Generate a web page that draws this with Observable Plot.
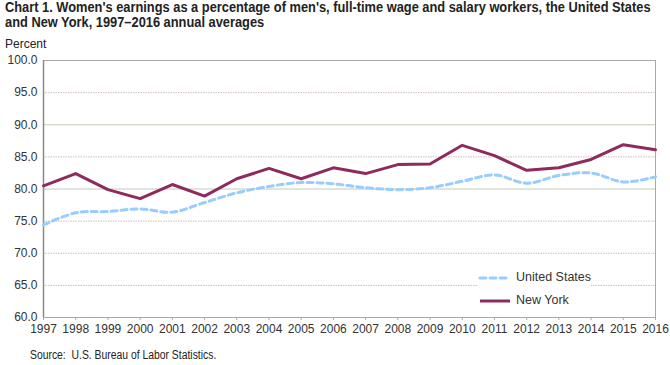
<!DOCTYPE html>
<html>
<head>
<meta charset="utf-8">
<script src="https://cdn.jsdelivr.net/npm/d3@7"></script>
<script src="https://cdn.jsdelivr.net/npm/@observablehq/plot@0.6"></script>
<style>
  body { margin:0; background:#fff; width:670px; height:365px; overflow:hidden; position:relative;
         font-family:"Liberation Sans",Arial,sans-serif; color:#222; }
  #title { position:absolute; left:5px; top:0px; font-weight:bold; font-size:14.5px; line-height:15px; white-space:nowrap;
           transform:scaleX(0.885); transform-origin:0 0; }
  #unit { position:absolute; left:5px; top:37px; font-size:12px; color:#222; }
  #chart { position:absolute; left:0; top:52px; }
  #source { position:absolute; left:30px; top:348px; font-size:12.5px; white-space:nowrap; transform:scaleX(0.83); transform-origin:0 0; }
  #legend { position:absolute; left:478px; top:266px; font-size:12.5px; line-height:23px; background:#fff; color:#333; }
  #legend div { display:flex; align-items:center; }
  #legend svg { margin-right:4px; }
</style>
</head>
<body>
<div id="title">Chart 1. Women's earnings as a percentage of men's, full-time wage and salary workers, the United States<br>and New York, 1997–2016 annual averages</div>
<div id="unit">Percent</div>
<div id="chart"></div>
<div id="legend"></div>
<div id="source">Source:&nbsp; U.S. Bureau of Labor Statistics.</div>
<script>
const years = [1997,1998,1999,2000,2001,2002,2003,2004,2005,2006,2007,2008,2009,2010,2011,2012,2013,2014,2015,2016];
const unitedStates = [74.4,76.3,76.5,76.9,76.4,77.9,79.4,80.4,81.0,80.8,80.2,79.9,80.2,81.2,82.2,80.9,82.1,82.5,81.1,81.9];
const newYork = [80.5,82.4,79.9,78.5,80.7,78.9,81.6,83.2,81.6,83.3,82.4,83.8,83.9,86.8,85.2,82.9,83.3,84.6,86.9,86.1];
const yTicks = [60,65,70,75,80,85,90,95,100];
const solidGrid = [80,90];
const dottedGrid = [65,70,75,85,95];
const seriesNames = ["United States","New York"];

const usColor = "#99ccff";
const nyColor = "#8e2b5c";

const us = years.map((y,i)=>({year:y, value:unitedStates[i]}));
const ny = years.map((y,i)=>({year:y, value:newYork[i]}));

const chart = Plot.plot({
  width: 670,
  height: 285,
  marginLeft: 43,
  marginRight: 15,
  marginTop: 8,
  marginBottom: 20,
  style: {fontFamily: '"Liberation Sans",Arial,sans-serif', fontSize: "12px", color: "#333", background: "#fff"},
  x: {domain: [1997, 2016], ticks: years, tickFormat: d3.format("d"), label: null},
  y: {domain: [60, 100], ticks: yTicks, tickFormat: d3.format(".1f"), label: null},
  marks: [
    Plot.gridY(solidGrid, {stroke: "#c3cabb", strokeOpacity: 1}),
    Plot.gridY(dottedGrid, {stroke: "#cdbcbc", strokeOpacity: 1, strokeDasharray: "1.5,1"}),
    Plot.frame({stroke: "#a8a8a8"}),
    Plot.ruleX([1997], {stroke: "#8a8a8a", strokeWidth: 1.5}),
    Plot.axisY({ticks: yTicks, tickSize: 0, tickPadding: 6, tickFormat: d3.format(".1f"), fontSize: 12, fill: "#333"}),
    Plot.axisX({ticks: years, tickSize: 3, tickPadding: 4, stroke: "#aaa", tickFormat: d3.format("d"), fontSize: 12, fill: "#333"}),
    Plot.line(us, {x: "year", y: "value", stroke: usColor, strokeWidth: 3, strokeDasharray: "6,4", strokeLinecap: "round", curve: "catmull-rom"}),
    Plot.line(ny, {x: "year", y: "value", stroke: nyColor, strokeWidth: 3})
  ]
});
document.getElementById("chart").appendChild(chart);

const legend = document.getElementById("legend");
const styles = [
  {stroke: usColor, dash: "6,4"},
  {stroke: nyColor, dash: null}
];
seriesNames.forEach((name, i) => {
  const row = document.createElement("div");
  const s = styles[i];
  row.innerHTML = `<svg width="34" height="6"><line x1="2" y1="3" x2="32" y2="3" stroke="${s.stroke}" stroke-width="3" ${s.dash ? `stroke-dasharray="${s.dash}" stroke-linecap="round"` : ""}/></svg><span>${name}</span>`;
  legend.appendChild(row);
});
</script>
</body>
</html>
